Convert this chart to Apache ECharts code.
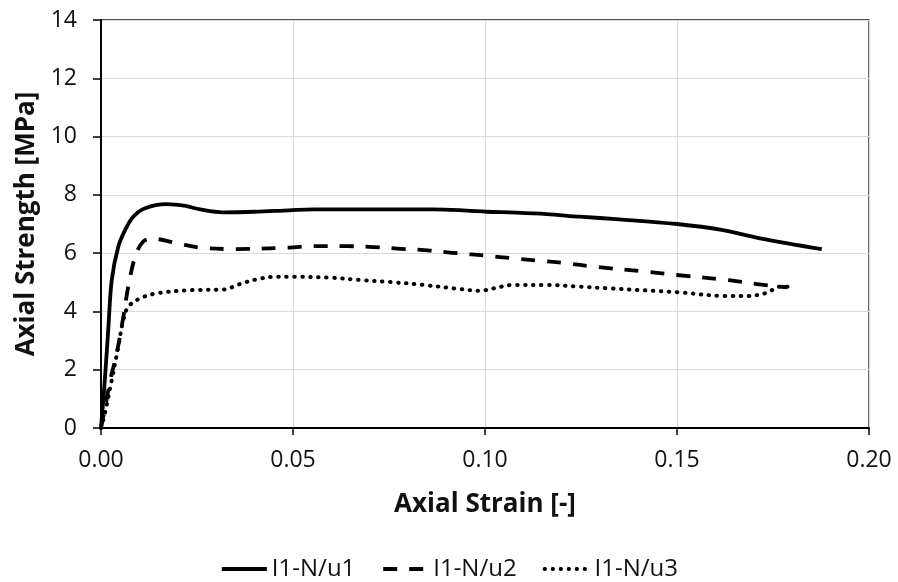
<!DOCTYPE html>
<html>
<head>
<meta charset="utf-8">
<script src="https://cdn.jsdelivr.net/npm/echarts@6/dist/echarts.min.js"></script>
<style>
  html, body { margin: 0; padding: 0; background: #fff; }
  #chart { width: 898px; height: 582px; }
</style>
</head>
<body>
<div id="chart"></div>
<script>
// Axial stress-strain curves for three specimens
const seriesNames = ['I1-N/u1', 'I1-N/u2', 'I1-N/u3'];

const strainU1 = [0, 0.001, 0.0019, 0.0028, 0.0045, 0.0063, 0.0084, 0.0115, 0.017, 0.022, 0.0258, 0.0318, 0.04, 0.049, 0.0553, 0.07, 0.0865, 0.0952, 0.1004, 0.108, 0.116, 0.1247, 0.135, 0.150, 0.1616, 0.1716, 0.1877];
const strengthU1 = [0, 1.65, 3.4, 5.08, 6.22, 6.8, 7.25, 7.54, 7.68, 7.62, 7.5, 7.40, 7.42, 7.47, 7.50, 7.50, 7.50, 7.46, 7.42, 7.39, 7.34, 7.25, 7.16, 7.0, 6.80, 6.51, 6.14];

const strainU2 = [0, 0.0012, 0.0025, 0.0041, 0.0058, 0.0071, 0.0089, 0.011, 0.0136, 0.0197, 0.0258, 0.0344, 0.049, 0.0553, 0.064, 0.0709, 0.0779, 0.0857, 0.0926, 0.1004, 0.1074, 0.1143, 0.1213, 0.1282, 0.1421, 0.150, 0.163, 0.1708, 0.1786];
const strengthU2 = [0, 0.8, 1.7, 2.57, 3.8, 4.85, 5.88, 6.4, 6.49, 6.34, 6.19, 6.14, 6.19, 6.24, 6.24, 6.21, 6.15, 6.09, 6.0, 5.91, 5.82, 5.74, 5.65, 5.54, 5.36, 5.25, 5.08, 4.94, 4.83];

const strainU3 = [0, 0.001, 0.0028, 0.0045, 0.0058, 0.0071, 0.0102, 0.0145, 0.0232, 0.0318, 0.0362, 0.0405, 0.0457, 0.050, 0.0596, 0.0674, 0.0753, 0.0839, 0.0926, 0.0987, 0.1022, 0.1074, 0.116, 0.1247, 0.1325, 0.150, 0.163, 0.1682, 0.1734, 0.1768, 0.1794];
const strengthU3 = [0, 0.5, 1.65, 2.79, 3.7, 4.16, 4.45, 4.62, 4.73, 4.75, 4.94, 5.10, 5.19, 5.19, 5.16, 5.08, 5.01, 4.91, 4.78, 4.71, 4.79, 4.91, 4.91, 4.85, 4.79, 4.66, 4.53, 4.53, 4.64, 4.85, 4.85];

const xTicks = { min: 0, max: 0.2, interval: 0.05 };
const yTicks = { min: 0, max: 14, interval: 2 };

const pairs = (xs, ys) => xs.map((x, i) => [x, ys[i]]);

const FONT = '"Open Sans", "Noto Sans", sans-serif';
const lineColor = '#000000';
const textColor = '#111111';

const chart = echarts.init(document.getElementById('chart'), null, { renderer: 'canvas' });

const lineDefs = [
  { data: pairs(strainU1, strengthU1), dash: 'solid', cap: 'butt', width: 3.8 },
  { data: pairs(strainU2, strengthU2), dash: [14, 12], cap: 'butt', width: 3.8 },
  { data: pairs(strainU3, strengthU3), dash: [0.5, 7.5], cap: 'round', width: 4 }
];

chart.setOption({
  animation: false,
  backgroundColor: '#ffffff',
  textStyle: { fontFamily: FONT },
  grid: {
    left: 101, right: 29, top: 20, bottom: 154,
    show: true, borderColor: '#1a1a1a', borderWidth: 1.3, backgroundColor: 'transparent'
  },
  legend: {
    top: 552,
    left: 'center',
    itemWidth: 45,
    itemHeight: 14,
    itemGap: 26,
    itemStyle: { opacity: 0 },
    lineStyle: { width: 3.8 },
    textStyle: { fontFamily: FONT, fontSize: 24, color: textColor },
    data: seriesNames
  },
  xAxis: {
    type: 'value',
    min: xTicks.min, max: xTicks.max, interval: xTicks.interval,
    name: 'Axial Strain [-]',
    nameLocation: 'middle',
    nameGap: 64,
    nameTextStyle: { fontFamily: FONT, fontSize: 26, fontWeight: 'bold', color: textColor },
    axisLine: { show: true, onZero: false, lineStyle: { color: '#000', width: 2 } },
    axisTick: { show: true, inside: false, length: 7, lineStyle: { color: '#000', width: 1.5 } },
    axisLabel: { margin: 21, fontSize: 23, color: textColor, fontFamily: FONT,
      formatter: v => v.toFixed(2) },
    splitLine: { show: true, lineStyle: { color: '#d9d9d9', width: 1 } }
  },
  yAxis: {
    type: 'value',
    min: yTicks.min, max: yTicks.max, interval: yTicks.interval,
    name: 'Axial Strength [MPa]',
    nameLocation: 'middle',
    nameGap: 58,
    nameTextStyle: { fontFamily: FONT, fontSize: 26, fontWeight: 'bold', color: textColor },
    axisLine: { show: true, onZero: false, lineStyle: { color: '#000', width: 2 } },
    axisTick: { show: true, inside: false, length: 8, lineStyle: { color: '#000', width: 1.5 } },
    axisLabel: { margin: 24, fontSize: 23, color: textColor, fontFamily: FONT },
    splitLine: { show: true, lineStyle: { color: '#d9d9d9', width: 1 } }
  },
  series: lineDefs.map((d, i) => ({
    name: seriesNames[i],
    type: 'line',
    data: d.data,
    smooth: 0.35,
    showSymbol: false,
    symbol: 'none',
    lineStyle: { color: lineColor, width: d.width, type: d.dash, cap: d.cap, join: 'round' },
    itemStyle: { color: lineColor },
    z: 3 - i
  }))
});
</script>
</body>
</html>
